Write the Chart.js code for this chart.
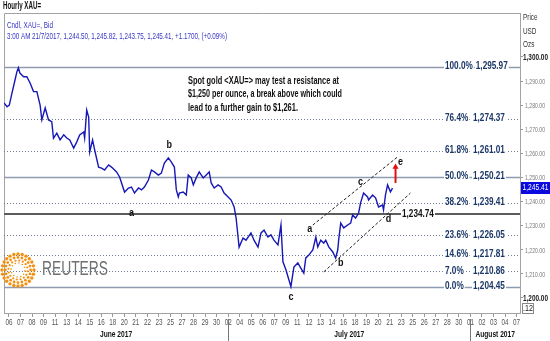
<!DOCTYPE html>
<html>
<head>
<meta charset="utf-8">
<script src="https://cdn.jsdelivr.net/npm/chart.js@4.4.0/dist/chart.umd.min.js"></script>
<style>
body { margin: 0; background: #fff; }
canvas { display: block; }
</style>
</head>
<body>
<canvas id="gold" width="550" height="341"></canvas>
<script>
// x axis: one tick per trading-day label, x values below are in tick units
const dayLabels = ["06","07","08","09","11","13","14","15","16","18","20","21","22","23","25","27","28","29","30",
  "02","04","05","06","07","09","11","12","13","14","16","18","19","20","21","23","25","26","27","28","30",
  "01","02","03","04","07"];
const monthNames = ["June 2017", "July 2017", "August 2017"];
const monthStart = [0, 19, 40];
const yTicks = [1200, 1210, 1220, 1230, 1240, 1250, 1260, 1270, 1280, 1290, 1300];

// hourly XAU= bid
const priceX = [-0.43,-0.17,0.03,0.26,0.49,0.69,0.82,0.95,1.27,1.55,1.84,2.13,2.42,2.70,2.85,3.14,3.43,3.71,3.86,4.15,4.43,
  4.75,5.01,5.27,5.61,5.87,6.13,6.48,6.56,6.74,6.91,7.00,7.25,7.43,7.77,8.03,8.29,8.64,8.89,9.33,9.59,10.02,10.36,10.62,
  10.88,11.23,11.49,11.74,12.09,12.35,12.61,12.95,13.21,13.47,13.82,14.08,14.34,14.51,14.68,14.77,15.11,15.37,15.54,
  15.80,15.98,16.23,16.49,16.84,17.10,17.36,17.53,17.79,18.13,18.39,18.65,19.00,19.26,19.52,19.69,19.86,19.95,20.29,
  20.55,20.98,21.24,21.59,21.85,22.11,22.45,22.71,22.97,23.32,23.58,23.75,24.01,24.27,24.44,24.70,25.04,25.30,25.56,
  25.73,25.99,26.34,26.60,26.77,27.03,27.29,27.46,27.72,28.07,28.32,28.50,28.58,28.76,29.02,29.36,29.62,29.79,30.05,
  30.31,30.48,30.74,31.09,31.17,31.52,31.78,32.04,32.38,32.47,32.64,32.82,33.07,33.25];
const priceY = [1280.9,1279.3,1280.0,1285.0,1289.7,1293.9,1295.5,1293.3,1291.8,1291.8,1289.1,1285.6,1285.6,1280.0,1273.8,1278.8,1273.8,1273.1,1266.2,1268.3,1265.5,
  1267.6,1266.3,1265.5,1262.1,1264.6,1267.6,1268.8,1266.3,1277.9,1275.0,1260.5,1265.5,1261.3,1254.2,1253.8,1253.0,1255.1,1254.2,1252.2,1250.1,1243.8,1245.5,1245.9,
  1243.4,1245.5,1244.7,1245.9,1248.8,1253.0,1252.2,1250.9,1251.7,1255.9,1258.0,1256.3,1254.2,1244.7,1241.8,1243.4,1243.8,1242.6,1250.9,
  1249.7,1246.8,1249.7,1252.2,1249.7,1250.9,1252.2,1247.6,1245.5,1246.8,1245.9,1243.4,1241.8,1240.5,1237.6,1233.0,1225.1,1220.9,1224.7,
  1223.8,1226.8,1223.8,1220.9,1226.8,1228.0,1225.1,1226.0,1223.8,1221.8,1230.1,1214.8,1211.5,1207.2,1204.5,1212.6,1214.3,1212.2,1210.1,
  1216.4,1217.6,1219.7,1225.1,1221.0,1223.8,1222.6,1223.8,1221.0,1218.9,1216.4,1219.7,1223.8,1230.9,1228.9,1230.1,1230.9,1234.3,1233.0,
  1235.1,1239.3,1243.4,1241.8,1240.5,1242.6,1241.4,1237.6,1238.4,1236.4,1242.6,1246.8,1243.9,1245.41];
const lastPrice = 1245.41;

// fibonacci retracement
const fibRatio = [100, 76.4, 61.8, 50, 38.2, 23.6, 14.6, 7, 0];
const fibLevels = [1295.97, 1274.37, 1261.01, 1250.21, 1239.41, 1226.05, 1217.81, 1210.86, 1204.45];
const supportLevel = 1234.74;

// channel, arrow and wave labels
const upperChannelX = [26.34, 33.68], upperChannelY = [1230.1, 1258.4];
const lowerChannelX = [27.29, 34.80], lowerChannelY = [1210.6, 1243.4];
const arrowX = [33.51, 33.51], arrowY = [1247.6, 1254.2];
const waveNames = ["a", "b", "c", "a", "b", "c", "d", "e"];
const waveX = [10.62, 13.9, 24.44, 26.08, 28.76, 30.48, 32.9, 33.94];
const waveY = [1235.1, 1263.4, 1200.2, 1228.5, 1214.3, 1248.1, 1232.6, 1256.3];

const note = ["Spot gold <XAU=> may test a resistance at",
  "$1,250 per ounce, a break above which could",
  "lead to a further gain to $1,261."];
const noteWidth = [151, 154, 110];

const NAVY = '#1b3766';

function pts(xs, ys) { return xs.map((x, i) => ({ x: x, y: ys[i] })); }
function fmt(v) { return v.toLocaleString('en-US', { minimumFractionDigits: 2, maximumFractionDigits: 2 }); }

// condensed text: Liberation Sans squeezed horizontally (to a width w, or by factor sx)
function sText(ctx, s, x, y, o) {
  ctx.font = (o.bold ? 'bold ' : '') + o.size + 'px "Liberation Sans", Arial, sans-serif';
  ctx.textBaseline = 'middle';
  ctx.textAlign = 'left';
  const nat = ctx.measureText(s).width;
  const sx = o.w ? o.w / nat : (o.sx || 0.82);
  const w = nat * sx;
  const left = o.align === 'center' ? x - w / 2 : o.align === 'right' ? x - w : x;
  if (o.bg) {
    ctx.fillStyle = o.bg;
    ctx.fillRect(left - 1, y - 6, w + 2, 12);
  }
  ctx.save();
  ctx.translate(left, y);
  ctx.scale(sx, 1);
  ctx.fillStyle = o.color;
  ctx.fillText(s, 0, 0);
  ctx.restore();
  return w;
}

const overlay = {
  id: 'overlay',
  beforeDatasetsDraw(chart) {
    const { ctx, chartArea: a, scales: { y } } = chart;
    ctx.save();
    // frame
    ctx.strokeStyle = '#a3a3a3';
    ctx.lineWidth = 1;
    ctx.beginPath();
    ctx.moveTo(a.left + 0.5, a.bottom);
    ctx.lineTo(a.left + 0.5, a.top + 0.5);
    ctx.lineTo(a.right, a.top + 0.5);
    ctx.stroke();
    fibLevels.forEach((v, k) => {
      const py = Math.round(y.getPixelForValue(v)) + 0.5;
      const solid = fibRatio[k] % 50 === 0;
      ctx.strokeStyle = solid ? '#8e9bb0' : '#6f7d92';
      ctx.lineWidth = solid ? 1.5 : 1;
      ctx.setLineDash(solid ? [] : [1, 2]);
      ctx.beginPath();
      ctx.moveTo(a.left, py);
      ctx.lineTo(a.right, py);
      ctx.stroke();
    });
    ctx.setLineDash([]);
    const sy = Math.round(y.getPixelForValue(supportLevel));
    ctx.strokeStyle = '#5c5c5c';
    ctx.lineWidth = 2;
    ctx.beginPath();
    ctx.moveTo(a.left, sy);
    ctx.lineTo(a.right, sy);
    ctx.stroke();
    ctx.restore();
  },
  afterDatasetsDraw(chart) {
    const { ctx, chartArea: a, scales: { x, y } } = chart;
    ctx.save();
    // fib labels
    fibLevels.forEach((v, k) => {
      const py = y.getPixelForValue(v);
      const w = sText(ctx, fibRatio[k].toFixed(1) + '%', a.right - 75, py, { size: 10, bold: true, color: NAVY, bg: '#fff' });
      sText(ctx, fmt(v), Math.max(a.right - 47, a.right - 75 + w + 3), py, { size: 10, bold: true, color: NAVY, bg: '#fff' });
    });
    sText(ctx, fmt(supportLevel), 402, y.getPixelForValue(supportLevel), { size: 10, bold: true, color: '#111', bg: '#fff' });
    // wave labels
    waveNames.forEach((s, k) => sText(ctx, s, x.getPixelForValue(waveX[k]), y.getPixelForValue(waveY[k]),
      { size: 10, bold: true, color: '#111', align: 'center', sx: 0.9 }));
    // commentary
    note.forEach((s, k) => sText(ctx, s, 188, 81 + k * 13.5, { size: 10, bold: true, color: '#111', w: noteWidth[k] }));
    // reuters logo
    const cx = 18, cy = 270;
    ctx.fillStyle = '#f29111';
    [[16, 24, 1.7], [12.6, 20, 1.4], [9.6, 16, 1.1], [7, 12, 0.8]].forEach(r => {
      for (let j = 0; j < r[1]; j++) {
        const t = j / r[1] * Math.PI * 2 + (r[0] > 10 ? 0 : 0.13);
        ctx.beginPath();
        ctx.arc(cx + Math.cos(t) * r[0], cy + Math.sin(t) * r[0], r[2], 0, Math.PI * 2);
        ctx.fill();
      }
    });
    sText(ctx, 'REUTERS', 42, 269, { size: 20, color: '#6e6f71', w: 66 });
    ctx.restore();
  },
  afterDraw(chart) {
    const { ctx, chartArea: a, scales: { x, y } } = chart;
    ctx.save();
    sText(ctx, 'Hourly XAU=', 3, 6, { size: 10, bold: true, color: '#111', w: 38 });
    sText(ctx, 'Cndl, XAU=, Bid', 7, 25, { size: 9.5, color: '#3535c8', w: 46 });
    sText(ctx, '3:00 AM 21/7/2017, 1,244.50, 1,245.82, 1,243.75, 1,245.41, +1.1700, (+0.09%)', 7, 36,
      { size: 9.5, color: '#3535c8', w: 220 });
    ['Price', 'USD', 'Ozs'].forEach((s, k) => sText(ctx, s, a.right + 3, 18 + k * 13.5, { size: 8.5, color: '#333', sx: 0.75 }));
    // y tick labels
    y.ticks.forEach(t => {
      const major = t.value % 100 === 0;
      sText(ctx, fmt(t.value), a.right + (major ? 3 : 5), y.getPixelForValue(t.value) + 1,
        { size: major ? 9 : 8, bold: major, color: major ? '#222' : '#777', w: major ? 25 : 20 });
    });
    // x tick labels
    x.ticks.forEach(t => {
      sText(ctx, dayLabels[t.value], x.getPixelForValue(t.value), 323, { size: 9, color: '#555', align: 'center', sx: 0.7 });
    });
    // last price box
    const py = Math.round(y.getPixelForValue(lastPrice));
    ctx.fillStyle = '#0a0ae0';
    ctx.fillRect(a.right + 1, py - 6, 29, 12);
    sText(ctx, fmt(lastPrice), a.right + 15.5, py, { size: 9, color: '#fff', align: 'center', w: 26 });
    // small box at corner
    ctx.strokeStyle = '#888';
    ctx.lineWidth = 1;
    ctx.strokeRect(a.right + 2.5, a.bottom - 9.5, 11, 10);
    sText(ctx, '.12', a.right + 8, a.bottom - 4, { size: 9, color: '#222', align: 'center', sx: 0.8 });
    // month row
    monthStart.forEach((m, k) => {
      const x0 = k === 0 ? a.left : x.getPixelForValue(m);
      const x1 = k + 1 < monthStart.length ? x.getPixelForValue(monthStart[k + 1]) : a.right;
      sText(ctx, monthNames[k], (x0 + x1) / 2, 334, { size: 9.5, bold: true, color: '#111', align: 'center', sx: 0.7 });
      if (k > 0) {
        ctx.strokeStyle = '#777';
        ctx.beginPath();
        ctx.moveTo(Math.round(x0) + 0.5, 319);
        ctx.lineTo(Math.round(x0) + 0.5, 341);
        ctx.stroke();
      }
    });
    ctx.restore();
  }
};

new Chart("gold", {
  type: "line",
  data: {
    datasets: [{
      data: pts(priceX, priceY),
      borderColor: "#1717b8",
      borderWidth: 1.4,
      pointRadius: 0
    }, {
      data: pts(upperChannelX, upperChannelY),
      borderColor: "#222",
      borderWidth: 1,
      borderDash: [3, 2],
      pointRadius: 0
    }, {
      data: pts(lowerChannelX, lowerChannelY),
      borderColor: "#222",
      borderWidth: 1,
      borderDash: [3, 2],
      pointRadius: 0
    }, {
      data: pts(arrowX, arrowY),
      borderColor: "#e31010",
      backgroundColor: "#e31010",
      borderWidth: 2,
      pointStyle: "triangle",
      pointRadius: [0, 3.5],
      pointBorderWidth: 0
    }]
  },
  options: {
    responsive: false,
    animation: false,
    devicePixelRatio: 1,
    layout: { padding: { left: 2, top: 13, right: 0, bottom: 0 } },
    plugins: { legend: { display: false }, tooltip: { enabled: false } },
    scales: {
      x: {
        type: "linear",
        min: -0.43,
        max: 44.3,
        afterBuildTicks: s => { s.ticks = dayLabels.map((d, i) => ({ value: i })); },
        afterFit: s => { s.height = 28; },
        grid: { drawOnChartArea: false, tickLength: 4, color: "#999" },
        border: { color: "#a3a3a3" },
        ticks: { display: false, autoSkip: false, maxRotation: 0 }
      },
      y: {
        position: "right",
        min: 1193.5,
        max: 1318.3,
        afterBuildTicks: s => { s.ticks = yTicks.map(v => ({ value: v })); },
        afterFit: s => { s.width = 30; },
        grid: { drawOnChartArea: false, tickLength: 3, color: "#999" },
        border: { color: "#a3a3a3" },
        ticks: { display: false }
      }
    }
  },
  plugins: [overlay]
});
</script>
</body>
</html>
